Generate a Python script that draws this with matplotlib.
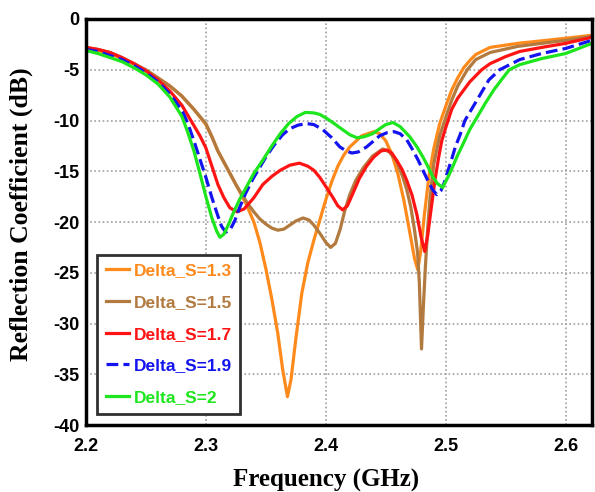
import matplotlib
matplotlib.use("Agg")
import matplotlib.pyplot as plt

# frequency (GHz) / reflection coefficient (dB)
f_13 = [2.20, 2.21, 2.22, 2.23, 2.24, 2.25, 2.26, 2.27, 2.28, 2.29, 2.30, 2.305, 2.31, 2.315,
        2.32, 2.325, 2.33, 2.335, 2.34, 2.345, 2.35, 2.355, 2.36, 2.364, 2.368, 2.371, 2.375,
        2.38, 2.385, 2.39, 2.395, 2.40, 2.405, 2.41, 2.415, 2.42, 2.43, 2.44, 2.445, 2.45,
        2.455, 2.46, 2.465, 2.47, 2.474, 2.4767, 2.479, 2.482, 2.486, 2.49, 2.495, 2.50,
        2.505, 2.51, 2.515, 2.52, 2.525, 2.537, 2.56, 2.60, 2.622]
s_13 = [-2.9, -3.1, -3.4, -3.9, -4.4, -5.1, -5.8, -6.6, -7.6, -8.9, -10.4, -11.6, -13.0, -14.1,
        -15.2, -16.3, -17.4, -18.6, -20.0, -22.0, -24.6, -27.6, -31.0, -34.5, -37.2, -35.5, -31.5,
        -27.0, -24.0, -21.8, -19.8, -17.8, -16.0, -14.5, -13.4, -12.6, -11.5, -11.1, -11.3, -12.0,
        -13.3, -15.2, -17.8, -21.0, -23.6, -24.7, -23.0, -19.5, -15.5, -12.8, -10.3, -8.6,
        -7.0, -5.8, -4.8, -4.1, -3.5, -2.8, -2.4, -1.9, -1.6]

f_15 = [2.20, 2.21, 2.22, 2.23, 2.24, 2.25, 2.26, 2.27, 2.28, 2.29, 2.30, 2.305, 2.31, 2.315,
        2.32, 2.325, 2.33, 2.335, 2.34, 2.345, 2.35, 2.355, 2.36, 2.365, 2.37, 2.375, 2.381,
        2.386, 2.39, 2.395, 2.40, 2.404, 2.408, 2.412, 2.416, 2.42, 2.425, 2.431, 2.439,
        2.4475, 2.453, 2.459, 2.464, 2.4675, 2.471, 2.474, 2.4765, 2.478, 2.4798, 2.4815,
        2.483, 2.485, 2.487, 2.49, 2.495, 2.50, 2.505, 2.51, 2.518, 2.525, 2.537, 2.56,
        2.60, 2.622]
s_15 = [-2.8, -3.0, -3.3, -3.8, -4.4, -5.0, -5.8, -6.6, -7.6, -8.9, -10.3, -11.6, -13.0, -14.1,
        -15.2, -16.3, -17.3, -18.2, -19.0, -19.7, -20.2, -20.6, -20.8, -20.7, -20.3, -19.9, -19.6,
        -19.8, -20.3, -21.1, -22.0, -22.5, -22.1, -20.7, -18.8, -17.3, -15.9, -14.7, -13.5,
        -12.8, -13.1, -14.0, -15.5, -16.8, -18.6, -20.8, -23.0, -26.0, -32.5, -28.0,
        -24.5, -20.5, -17.5, -14.3, -11.5, -9.7, -8.0, -6.6, -5.0, -4.0, -3.3, -2.7,
        -2.1, -1.7]

f_17 = [2.20, 2.21, 2.22, 2.23, 2.24, 2.25, 2.26, 2.27, 2.28, 2.29, 2.295, 2.30, 2.305, 2.31,
        2.315, 2.32, 2.326, 2.332, 2.34, 2.3475, 2.355, 2.362, 2.37, 2.378, 2.385, 2.39, 2.395,
        2.40, 2.406, 2.41, 2.414, 2.418, 2.4225, 2.428, 2.434, 2.44, 2.446, 2.451, 2.455,
        2.459, 2.4635, 2.4675, 2.472, 2.476, 2.4795, 2.4825, 2.485, 2.4875, 2.491, 2.494,
        2.4967, 2.50, 2.505, 2.51, 2.52, 2.53, 2.537, 2.55, 2.5617, 2.58, 2.60, 2.622]
s_17 = [-2.8, -3.0, -3.3, -3.8, -4.4, -5.1, -6.0, -7.1, -8.5, -10.5, -11.5, -12.7, -14.5, -16.3,
        -17.6, -18.6, -19.0, -18.7, -17.6, -16.3, -15.5, -14.9, -14.4, -14.2, -14.5, -14.9, -15.6,
        -16.5, -17.6, -18.4, -18.8, -18.4, -17.2, -15.7, -14.5, -13.6, -13.0, -12.9, -13.2,
        -13.9, -14.8, -15.9, -17.4, -19.3, -21.5, -22.9, -21.3, -19.0, -15.9, -13.7,
        -12.0, -10.7, -8.9, -7.8, -6.2, -5.0, -4.4, -3.7, -3.2, -2.8, -2.4, -1.8]

f_19 = [2.20, 2.21, 2.22, 2.23, 2.24, 2.25, 2.26, 2.27, 2.28, 2.285, 2.29, 2.295, 2.30, 2.305,
        2.31, 2.313, 2.3165, 2.32, 2.324, 2.328, 2.333, 2.339, 2.345, 2.35, 2.357, 2.364, 2.37,
        2.377, 2.384, 2.39, 2.3975, 2.405, 2.4117, 2.417, 2.4217, 2.427, 2.434, 2.44, 2.445,
        2.451, 2.457, 2.462, 2.4675, 2.472, 2.477, 2.481, 2.485, 2.489, 2.4925, 2.496,
        2.4992, 2.502, 2.505, 2.508, 2.512, 2.516, 2.52, 2.528, 2.536, 2.545, 2.5617, 2.58,
        2.60, 2.622]
s_19 = [-3.0, -3.2, -3.6, -4.0, -4.6, -5.3, -6.2, -7.4, -9.0, -10.3, -12.0, -13.8, -15.6, -17.6,
        -19.4, -20.4, -21.0, -20.8, -19.9, -18.6, -17.2, -15.8, -14.6, -13.6, -12.4, -11.4, -10.8,
        -10.45, -10.3, -10.4, -10.9, -11.7, -12.6, -13.0, -13.2, -13.1, -12.6, -12.0, -11.5,
        -11.2, -11.1, -11.3, -11.9, -12.8, -13.9, -14.9, -15.9, -16.8, -17.3, -16.9,
        -16.0, -14.9, -13.8, -12.6, -11.4, -10.0, -9.2, -7.6, -6.0, -5.0, -4.0, -3.4,
        -2.9, -2.1]

f_20 = [2.20, 2.21, 2.22, 2.23, 2.24, 2.25, 2.26, 2.27, 2.28, 2.285, 2.29, 2.295, 2.30, 2.305,
        2.309, 2.3117, 2.315, 2.319, 2.3225, 2.328, 2.334, 2.34, 2.3475, 2.355, 2.362, 2.369,
        2.376, 2.383, 2.39, 2.395, 2.4008, 2.407, 2.414, 2.42, 2.426, 2.432, 2.439, 2.445,
        2.45, 2.456, 2.462, 2.47, 2.476, 2.481, 2.485, 2.489, 2.493, 2.4975, 2.50, 2.503,
        2.506, 2.51, 2.5145, 2.52, 2.526, 2.533, 2.54, 2.547, 2.553, 2.5617, 2.58, 2.60,
        2.622]
s_20 = [-3.1, -3.4, -3.8, -4.2, -4.8, -5.5, -6.4, -7.7, -9.6, -11.2, -13.0, -15.2, -17.5, -19.6,
        -20.9, -21.5, -21.2, -20.2, -19.2, -17.8, -16.5, -15.2, -13.9, -12.5, -11.3, -10.3,
        -9.6, -9.2, -9.25, -9.4, -9.8, -10.3, -10.9, -11.4, -11.7, -11.6, -11.3, -10.8,
        -10.4, -10.2, -10.6, -11.6, -12.6, -13.6, -14.5, -15.5, -16.2, -16.6, -16.0, -15.3,
        -14.5, -13.4, -12.3, -10.9, -9.7, -8.3, -7.0, -5.9, -5.0, -4.5, -3.9, -3.4,
        -2.4]

labels = ["Delta_S=1.3", "Delta_S=1.5", "Delta_S=1.7", "Delta_S=1.9", "Delta_S=2"]
colors = ["#ff8a1c", "#b27a3e", "#ff1414", "#1414f0", "#1ee61e"]
styles = ["-", "-", "-", "--", "-"]

xticks = [2.2, 2.3, 2.4, 2.5, 2.6]
yticks = [0, -5, -10, -15, -20, -25, -30, -35, -40]

fig = plt.figure(figsize=(5.95, 4.92), dpi=100)
ax = fig.add_axes([0.1445, 0.136, 0.8505, 0.8254])

series = [(f_13, s_13), (f_15, s_15), (f_17, s_17), (f_19, s_19), (f_20, s_20)]
for (f, s), lab, c, ls in zip(series, labels, colors, styles):
    ax.plot(f, s, color=c, linestyle=ls, linewidth=2.3, label=lab,
            solid_joinstyle="round", dash_capstyle="butt")

ax.set_xlim(2.2, 2.622)
ax.set_ylim(-40, 0)
ax.set_xticks(xticks)
ax.set_yticks(yticks)
ax.set_xticklabels([str(t) for t in xticks])
ax.set_yticklabels([str(t) for t in yticks])
ax.tick_params(axis="x", length=0, pad=9)
ax.tick_params(axis="y", length=0, pad=5)
for lbl in ax.get_xticklabels() + ax.get_yticklabels():
    lbl.set_fontfamily("Liberation Sans")
    lbl.set_fontweight("bold")
    lbl.set_fontsize(13)

ax.grid(True, color="#a0a0a0", linestyle=(0, (1, 1.5)), linewidth=1.2)
for sp in ax.spines.values():
    sp.set_linewidth(2.5)

ax.set_xlabel("Frequency (GHz)", fontfamily="Liberation Serif", fontweight="bold",
              fontsize=18)
ax.xaxis.set_label_coords(0.474, -0.107)
ax.set_ylabel("Reflection Coefficient (dB)", fontfamily="Liberation Serif",
              fontweight="bold", fontsize=18.5)
ax.yaxis.set_label_coords(-0.105, 0.52)

leg = ax.legend(loc="lower left", bbox_to_anchor=(0.022, 0.028), fancybox=False,
                framealpha=1, edgecolor="#303030", handlelength=1.35,
                handletextpad=0.25, borderpad=0.5, labelspacing=0.95,
                borderaxespad=0,
                prop={"family": "Liberation Sans", "weight": "bold", "size": 12.5})
leg.get_frame().set_linewidth(2)
for txt, c in zip(leg.get_texts(), colors):
    txt.set_color(c)

fig.savefig("out.png", dpi=100)
